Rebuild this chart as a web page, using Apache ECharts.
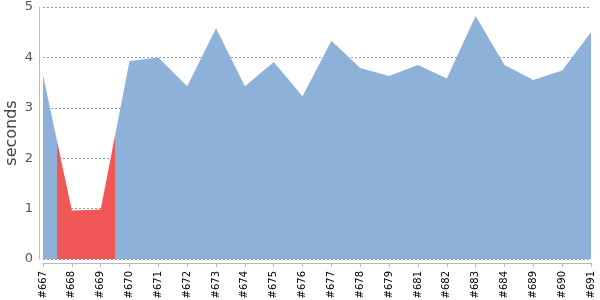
<!DOCTYPE html>
<html><head><meta charset="utf-8">
<script src="https://cdn.jsdelivr.net/npm/echarts@6/dist/echarts.min.js"></script>
<style>html,body{margin:0;padding:0;background:#fff}#c{width:600px;height:300px}</style>
</head><body><div id="c"></div>
<script>
const builds = ['#667','#668','#669','#670','#671','#672','#673','#674','#675','#676','#677','#678','#679','#681','#682','#683','#684','#689','#690','#691'];
const seconds = [3.65,0.96,0.98,3.93,4.00,3.43,4.58,3.43,3.91,3.23,4.33,3.79,3.63,3.85,3.58,4.82,3.85,3.55,3.74,4.50];
const failedRange = [0.5, 2.5];
const yTicks = [0,1,2,3,4,5];

const chart = echarts.init(document.getElementById('c'));
chart.setOption({
  animation:false,
  grid:{left:43,right:9,top:7,bottom:41,outerBoundsMode:'none',containLabel:false},
  xAxis:{type:'value',min:0,max:builds.length-1,interval:1,offset:4,
    axisLine:{show:true,onZero:false,lineStyle:{color:'#bbb'}},
    axisTick:{show:true,length:4,lineStyle:{color:'#bbb'}},
    axisLabel:{rotate:90,fontSize:10,color:'#000',margin:8,fontFamily:'DejaVu Sans',
      showMinLabel:true,showMaxLabel:true,hideOverlap:false,
      formatter:v=>builds[v]||''},
    splitLine:{show:false}},
  yAxis:{type:'value',min:yTicks[0],max:yTicks[yTicks.length-1],interval:1,offset:4,
    name:'seconds',nameLocation:'middle',nameRotate:90,nameGap:19,nameMoveOverlap:false,
    nameTextStyle:{fontSize:16,color:'#444',fontFamily:'DejaVu Sans'},
    axisLine:{show:true,onZero:false,lineStyle:{color:'#bbb'}},
    axisTick:{show:false},
    axisLabel:{fontSize:13,color:'#555',margin:6,fontFamily:'DejaVu Sans'},
    splitLine:{show:true,lineStyle:{color:'#999',type:[2,2],width:1}}},
  visualMap:{show:false,type:'piecewise',dimension:0,seriesIndex:0,
    pieces:[{gt:failedRange[0],lt:failedRange[1],color:'#f25757'}],
    outOfRange:{color:'#8eb1da'}},
  series:[{type:'line',data:seconds.map((v,i)=>[i,v]),symbol:'none',
    lineStyle:{width:0},areaStyle:{opacity:1}}]
});
</script></body></html>
